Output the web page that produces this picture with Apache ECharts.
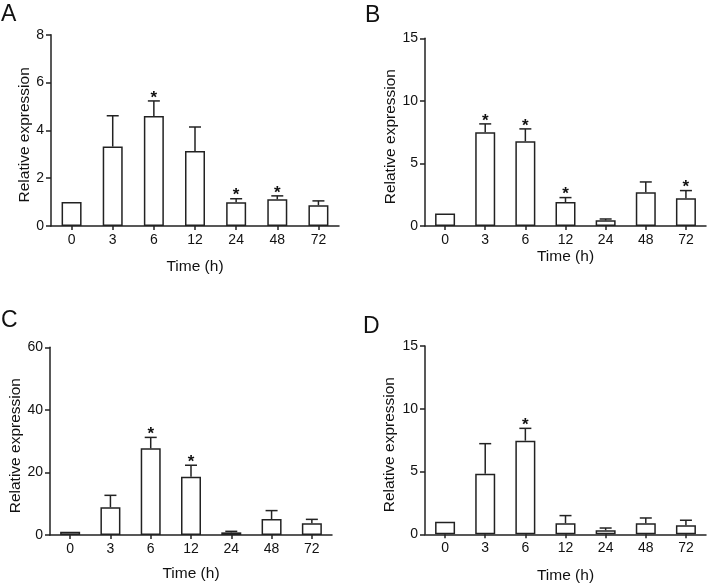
<!DOCTYPE html>
<html>
<head>
<meta charset="utf-8">
<script src="https://cdn.jsdelivr.net/npm/echarts@6/dist/echarts.min.js"></script>
<style>
html,body{margin:0;padding:0;background:#fff;}
#c{width:709px;height:585px;}
</style>
</head>
<body>
<div id="c"></div>
<script>
const categories = ['0','3','6','12','24','48','72'];

const meanA = [1.0, 3.32, 4.60, 3.14, 0.99, 1.12, 0.87];
const errA  = [0, 1.29, 0.63, 1.00, 0.15, 0.14, 0.18];
const starA = [0, 0, 1, 0, 1, 1, 0];

const meanB = [1.0, 7.49, 6.77, 1.92, 0.45, 2.69, 2.21];
const errB  = [0, 0.67, 0.99, 0.35, 0.11, 0.83, 0.62];
const starB = [0, 1, 1, 1, 0, 0, 1];

const meanC = [1.0, 8.85, 27.7, 18.65, 0.85, 5.1, 3.73];
const errC  = [0, 3.83, 3.5, 3.65, 0.32, 2.7, 1.27];
const starC = [0, 0, 1, 1, 0, 0, 0];

const meanD = [1.0, 4.83, 7.46, 0.88, 0.32, 0.88, 0.72];
const errD  = [0, 2.39, 0.98, 0.61, 0.18, 0.42, 0.40];
const starD = [0, 0, 1, 0, 0, 0, 0];

const yMax = [8, 15, 60, 15];
const yStep = [2, 5, 20, 5];
const panelLetters = ['A', 'B', 'C', 'D'];

const means = [meanA, meanB, meanC, meanD];
const errs = [errA, errB, errC, errD];
const stars = [starA, starB, starC, starD];

const FONT = '"Liberation Sans", Arial, sans-serif';
const INK = '#111111';
const LINE = '#222222';

const grids = [
  {left: 51, top: 34.7, width: 288, height: 191.3},
  {left: 425, top: 38.3, width: 281, height: 187.7},
  {left: 50, top: 347.3, width: 282, height: 187.7},
  {left: 425, top: 346, width: 281, height: 188.3}
];
const xNameGap = [33, 22.5, 30.5, 33];
const yNameGap = [18, 25, 26, 27];
const letterPos = [[1, 3], [365, 4], [1, 309], [363, 315]];

const xAxes = [], yAxes = [], series = [];
for (let i = 0; i < 4; i++) {
  xAxes.push({
    type: 'category', gridIndex: i, data: categories, boundaryGap: true,
    name: 'Time (h)', nameLocation: 'middle', nameGap: xNameGap[i],
    nameTextStyle: {fontFamily: FONT, fontSize: 15.5, color: INK},
    axisLine: {show: true, lineStyle: {color: LINE, width: 1.5}},
    axisTick: {show: true, alignWithLabel: true, interval: 0, length: 4, lineStyle: {color: LINE, width: 1.5}},
    axisLabel: {fontFamily: FONT, fontSize: 14, color: INK, margin: 7, interval: 0},
    splitLine: {show: false}
  });
  yAxes.push({
    type: 'value', gridIndex: i, min: 0, max: yMax[i], interval: yStep[i],
    name: 'Relative expression', nameLocation: 'middle', nameGap: yNameGap[i], nameRotate: 90,
    nameTextStyle: {fontFamily: FONT, fontSize: 15.5, color: INK, padding: [0, 9, 0, 0]},
    axisLine: {show: true, lineStyle: {color: LINE, width: 1.5}},
    axisTick: {show: true, length: 5, lineStyle: {color: LINE, width: 1.5}},
    axisLabel: {fontFamily: FONT, fontSize: 14, color: INK, margin: 7},
    splitLine: {show: false}
  });
  series.push({
    type: 'bar', xAxisIndex: i, yAxisIndex: i, data: means[i], barWidth: 20,
    itemStyle: {color: '#ffffff', borderColor: LINE, borderWidth: 1.5},
    silent: true, z: 2
  });
  const errData = means[i].map((m, k) => [k, m, errs[i][k], stars[i][k]]);
  series.push({
    type: 'custom', xAxisIndex: i, yAxisIndex: i, data: errData, z: 3, silent: true,
    renderItem: function (params, api) {
      const k = api.value(0), m = api.value(1), e = api.value(2), s = api.value(3);
      const children = [];
      const p0 = api.coord([k, m]);
      const p1 = api.coord([k, m + e]);
      if (e > 0) {
        children.push({type: 'line', shape: {x1: p0[0], y1: p0[1], x2: p1[0], y2: p1[1]},
          style: {stroke: LINE, lineWidth: 1.5}});
        children.push({type: 'line', shape: {x1: p1[0] - 6, y1: p1[1], x2: p1[0] + 6, y2: p1[1]},
          style: {stroke: LINE, lineWidth: 1.5}});
      }
      if (s) {
        children.push({type: 'text', x: p1[0], y: p1[1] - 3,
          style: {text: '*', fontFamily: FONT, fontSize: 17, fontWeight: 'bold', fill: INK,
            align: 'center', verticalAlign: 'middle'}});
      }
      return {type: 'group', children: children};
    }
  });
}

const graphics = panelLetters.map((t, i) => ({
  type: 'text', left: letterPos[i][0], top: letterPos[i][1],
  style: {text: t, fontFamily: FONT, fontSize: 23, fill: INK}
}));

const chart = echarts.init(document.getElementById('c'), null, {renderer: 'canvas'});
chart.setOption({
  backgroundColor: '#ffffff',
  animation: false,
  grid: grids,
  xAxis: xAxes,
  yAxis: yAxes,
  series: series,
  graphic: graphics
});
</script>
</body>
</html>
